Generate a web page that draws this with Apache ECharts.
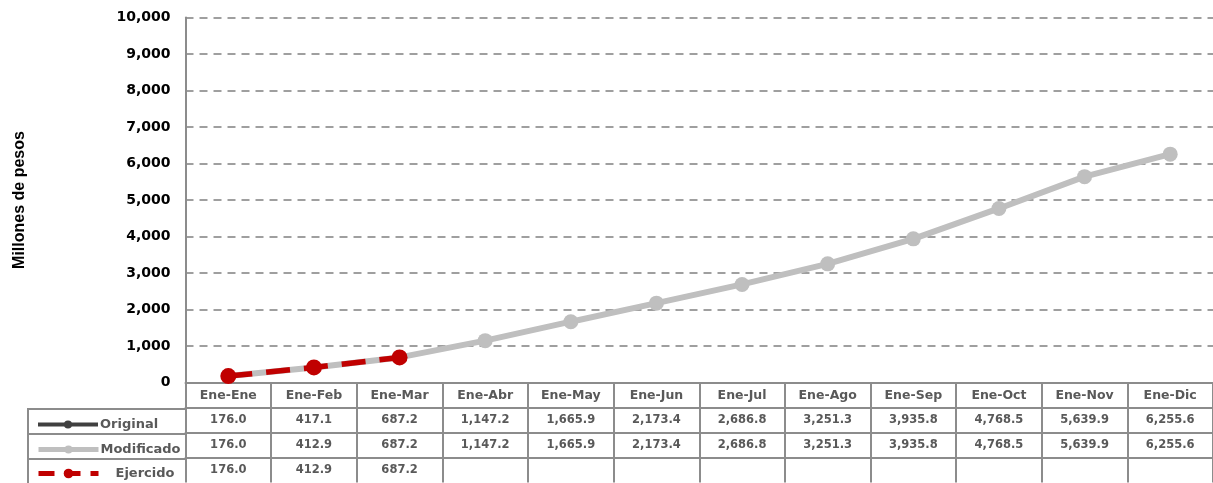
<!DOCTYPE html>
<html>
<head>
<meta charset="utf-8">
<script src="https://cdn.jsdelivr.net/npm/echarts@6/dist/echarts.min.js"></script>
<style>
html,body{margin:0;padding:0;background:#fff;}
#c{width:1213px;height:483px;}
</style>
</head>
<body>
<div id="c"></div>
<script>
const categories = ['Ene-Ene','Ene-Feb','Ene-Mar','Ene-Abr','Ene-May','Ene-Jun','Ene-Jul','Ene-Ago','Ene-Sep','Ene-Oct','Ene-Nov','Ene-Dic'];
const original = [176.0, 417.1, 687.2, 1147.2, 1665.9, 2173.4, 2686.8, 3251.3, 3935.8, 4768.5, 5639.9, 6255.6];
const modificado = [176.0, 412.9, 687.2, 1147.2, 1665.9, 2173.4, 2686.8, 3251.3, 3935.8, 4768.5, 5639.9, 6255.6];
const ejercido = [176.0, 412.9, 687.2];
const yTicks = {min: 0, max: 10000, interval: 1000};

const fmt = v => (v == null ? '' : v.toLocaleString('en-US', {minimumFractionDigits: 1, maximumFractionDigits: 1}));
const rowLabels = arr => categories.map((c, i) => fmt(arr[i]));

const border = '#8c8c8c';
const tableFont = {fontFamily: 'DejaVu Sans', fontWeight: 'bold', color: '#595959'};

function tableAxis(data, offset, fontSize) {
  return {
    type: 'category', gridIndex: 0, position: 'bottom', offset: offset,
    data: data, boundaryGap: true,
    axisLine: {show: true, lineStyle: {color: border, width: 2}},
    axisTick: {show: true, length: 25, interval: 0, alignWithLabel: false, lineStyle: {color: border, width: 2}},
    axisLabel: Object.assign({interval: 0, margin: 7, fontSize: fontSize}, tableFont),
    splitLine: {show: false}
  };
}

function legendItem(name, top, lineStyle, pad, h) {
  return {
    data: [name], left: 31, top: top, orient: 'horizontal',
    itemWidth: 60, itemHeight: h, itemGap: 4, selectedMode: false,
    lineStyle: lineStyle,
    textStyle: Object.assign({fontSize: 13, padding: [0, 0, 0, pad]}, tableFont)
  };
}

const chart = echarts.init(document.getElementById('c'), null, {renderer: 'canvas'});
const option = {
  animation: false,
  backgroundColor: '#fff',
  grid: {left: 185.5, top: 17.5, width: 1033, height: 365, containLabel: false},
  xAxis: [
    tableAxis(categories, 0, 12.5),
    tableAxis(rowLabels(original), 25, 11.5),
    tableAxis(rowLabels(modificado), 50, 11.5),
    tableAxis(rowLabels(ejercido), 75, 11.5)
  ],
  yAxis: {
    type: 'value', min: yTicks.min, max: yTicks.max, interval: yTicks.interval,
    name: 'Millones de pesos', nameLocation: 'middle', nameRotate: 90, nameGap: 158,
    nameTextStyle: {fontFamily: 'Liberation Sans', fontWeight: 'bold', fontSize: 16, color: '#000'},
    axisLine: {show: true, lineStyle: {color: border, width: 2}},
    axisTick: {show: false},
    axisLabel: {margin: 15, fontFamily: 'DejaVu Sans', fontWeight: 'bold', fontSize: 14, color: '#000',
      formatter: v => v.toLocaleString('en-US')},
    splitLine: {show: true, lineStyle: {color: '#808080', width: 1.5, type: [8, 6]}}
  },
  legend: [
    legendItem('Original', 413, {width: 4}, -3, 10),
    legendItem('Modificado', 438, {width: 5}, -3, 10),
    legendItem('Ejercido', 462, {width: 5, type: [16, 10]}, 12, 12)
  ],
  graphic: [
    {type: 'line', shape: {x1: 28, y1: 409, x2: 186, y2: 409}, style: {stroke: border, lineWidth: 2}},
    {type: 'line', shape: {x1: 28, y1: 434, x2: 186, y2: 434}, style: {stroke: border, lineWidth: 2}},
    {type: 'line', shape: {x1: 28, y1: 459, x2: 186, y2: 459}, style: {stroke: border, lineWidth: 2}},
    {type: 'line', shape: {x1: 28, y1: 408, x2: 28, y2: 484}, style: {stroke: border, lineWidth: 2}}
  ],
  series: [
    {name: 'Original', type: 'line', data: original, xAxisIndex: 0, z: 2,
     symbol: 'circle', symbolSize: 9,
     lineStyle: {color: '#404040', width: 3}, itemStyle: {color: '#404040'}},
    {name: 'Modificado', type: 'line', data: modificado, xAxisIndex: 0, z: 3,
     symbol: 'circle', symbolSize: 15,
     lineStyle: {color: '#bfbfbf', width: 6}, itemStyle: {color: '#bfbfbf'}},
    {name: 'Ejercido', type: 'line', data: ejercido, xAxisIndex: 0, z: 4,
     symbol: 'circle', symbolSize: 16,
     lineStyle: {color: '#c00000', width: 5.5, type: [24, 14]}, itemStyle: {color: '#c00000'}}
  ]
};
chart.setOption(option);
</script>
</body>
</html>
